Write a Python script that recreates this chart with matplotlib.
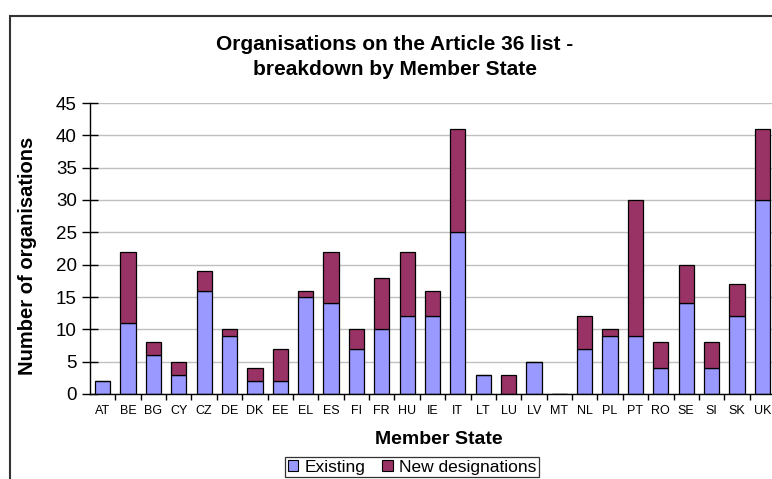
"""
Stacked bar chart: organisations on the Article 36 list by Member State.
"""
import matplotlib
matplotlib.use("Agg")
import matplotlib.pyplot as plt
from matplotlib.patches import Rectangle, Patch
from matplotlib.ticker import MultipleLocator, FixedLocator
import numpy as np

plt.rcParams["font.family"] = ["Liberation Sans", "DejaVu Sans"]

# ---- Data ----
states = ["AT", "BE", "BG", "CY", "CZ", "DE", "DK", "EE", "EL", "ES", "FI", "FR", "HU",
          "IE", "IT", "LT", "LU", "LV", "MT", "NL", "PL", "PT", "RO", "SE", "SI", "SK", "UK"]
existing = [2, 11, 6, 3, 16, 9, 2, 2, 15, 14, 7, 10, 12, 12, 25, 3, 0, 5, 0, 7, 9, 9, 4, 14, 4, 12, 30]
new_designations = [0, 11, 2, 2, 3, 1, 2, 5, 1, 8, 3, 8, 10, 4, 16, 0, 3, 0, 0, 5, 1, 21, 4, 6, 4, 5, 11]

BLUE = "#9999ff"
MAROON = "#993366"

W, H = 772, 479
fig = plt.figure(figsize=(W / 100, H / 100), dpi=100)

# outer chart border (cut off at right and bottom, as in the source)
fig.patches.append(Rectangle((10 / W, -0.1), 1.2, 1 - 16 / H + 0.1, transform=fig.transFigure,
                             fill=False, edgecolor="#333333", linewidth=1.5, zorder=0))

ax = fig.add_axes([90 / W, (H - 394) / H, (775 - 90) / W, (394 - 103) / H])
x = np.arange(len(states))
ax.bar(x, existing, width=0.6, color=BLUE, edgecolor="black", linewidth=0.9, zorder=3)
ax.bar(x, new_designations, width=0.6, bottom=existing, color=MAROON, edgecolor="black",
       linewidth=0.9, zorder=3)

ax.set_xlim(-0.5, len(states) - 0.5)
ax.set_ylim(0, 45)
ax.yaxis.set_major_locator(MultipleLocator(5))
ax.grid(axis="y", color="#c0c0c0", linewidth=1, zorder=0)

ax.set_xticks(x)
ax.set_xticklabels(states, fontsize=9)
ax.xaxis.set_minor_locator(FixedLocator(np.arange(0.5, len(states) - 0.5, 1)))
ax.tick_params(axis="x", which="major", length=0, pad=8)
ax.tick_params(axis="x", which="minor", length=4, width=1, direction="out")
ax.tick_params(axis="y", length=11, width=1, direction="inout", labelsize=13.5, pad=4)

for side in ("top", "right"):
    ax.spines[side].set_visible(False)
for side in ("left", "bottom"):
    ax.spines[side].set_linewidth(1)
    ax.spines[side].set_zorder(4)

fig.text(28 / W, 1 - 256 / H, "Number of organisations", rotation=90, ha="center", va="center",
         fontsize=14.5, fontweight="bold")
fig.text(439 / W, 1 - 440 / H, "Member State", ha="center", va="center",
         fontsize=14, fontweight="bold")

fig.text(395 / W, 1 - 57 / H, "Organisations on the Article 36 list -\nbreakdown by Member State",
         ha="center", va="center", fontsize=15, fontweight="bold", linespacing=1.35)

handles = [Patch(facecolor=BLUE, edgecolor="black", linewidth=0.8, label="Existing"),
           Patch(facecolor=MAROON, edgecolor="black", linewidth=0.8, label="New designations")]
leg = fig.legend(handles=handles, ncol=2, loc="upper center", bbox_to_anchor=(412 / W, 1 - 457 / H),
                 fontsize=12.5, frameon=True, fancybox=False, edgecolor="black", handlelength=0.6,
                 handleheight=0.6, handletextpad=0.35, columnspacing=1.0, borderpad=0.15,
                 borderaxespad=0)
leg.get_frame().set_linewidth(0.9)

fig.savefig("out.png", dpi=100)
